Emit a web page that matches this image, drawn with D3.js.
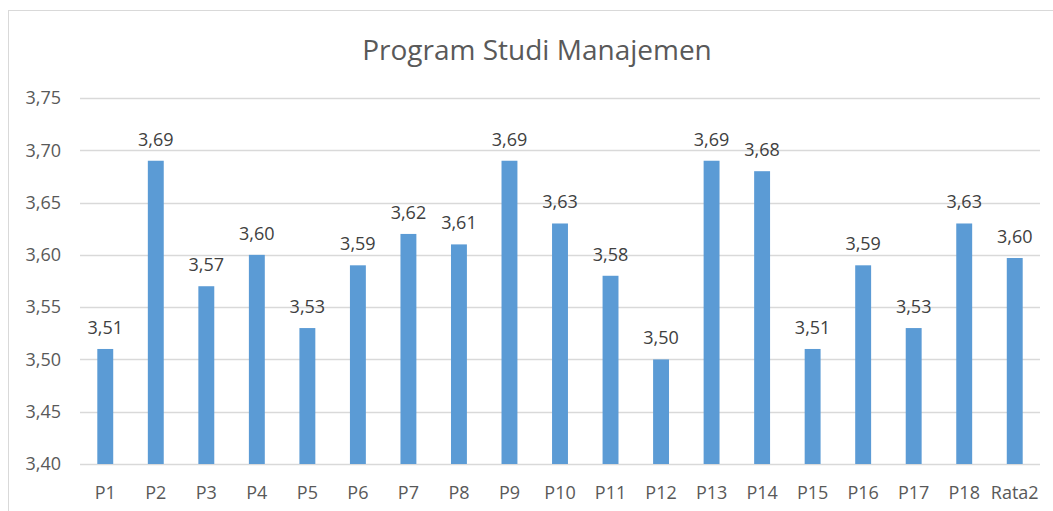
<!DOCTYPE html>
<html>
<head>
<meta charset="utf-8">
<script src="https://cdn.jsdelivr.net/npm/d3@7"></script>
<style>
  body { margin: 0; background: #fff; }
  text { font-family: "Open Sans", "Liberation Sans", sans-serif; }
</style>
</head>
<body>
<div id="chart"></div>
<script>
// data
var categories = ["P1", "P2", "P3", "P4", "P5", "P6", "P7", "P8", "P9", "P10",
  "P11", "P12", "P13", "P14", "P15", "P16", "P17", "P18", "Rata2"];
var values = [3.51, 3.69, 3.57, 3.60, 3.53, 3.59, 3.62, 3.61, 3.69, 3.63,
  3.58, 3.50, 3.69, 3.68, 3.51, 3.59, 3.53, 3.63, 3.597];
var yTicks = [3.40, 3.45, 3.50, 3.55, 3.60, 3.65, 3.70, 3.75];
var title = "Program Studi Manajemen";

var W = 1053, H = 511;
var margin = {top: 98, right: 13, bottom: 47, left: 80},
  width = W - margin.left - margin.right,
  height = H - margin.top - margin.bottom;

var comma = function(v, n) { return v.toFixed(n).replace(".", ","); };

var svg = d3.select("#chart").append("svg")
  .attr("width", W)
  .attr("height", H);

// chart border (cut off at right and bottom)
svg.append("rect")
  .attr("x", 8.5).attr("y", 10.5)
  .attr("width", W + 10).attr("height", H + 10)
  .attr("fill", "none")
  .attr("stroke", "#d9d9d9");

var g = svg.append("g")
  .attr("transform", "translate(" + margin.left + "," + margin.top + ")");

var x = d3.scaleBand().domain(categories).range([0, width]).paddingInner(0.685).paddingOuter(0.3425);
var y = d3.scaleLinear().domain([3.40, 3.75]).range([height, 0]);

// gridlines
g.selectAll(".grid").data(yTicks).enter().append("line")
  .attr("x1", 0).attr("x2", width)
  .attr("y1", function(d) { return Math.round(y(d)) + 0.5; })
  .attr("y2", function(d) { return Math.round(y(d)) + 0.5; })
  .attr("stroke", "#d9d9d9")
  .attr("stroke-width", 1.3);

// y axis labels
var yAxis = g.append("g")
  .call(d3.axisLeft(y).tickValues(yTicks).tickSize(0).tickPadding(19)
    .tickFormat(function(d) { return comma(d, 2); }));
yAxis.select(".domain").remove();
yAxis.selectAll("text")
  .style("font-size", "18px")
  .attr("fill", "#595959");

// x axis labels
var xAxis = g.append("g")
  .attr("transform", "translate(0," + height + ")")
  .call(d3.axisBottom(x).tickSize(0).tickPadding(22));
xAxis.select(".domain").remove();
xAxis.selectAll("text")
  .style("font-size", "18px")
  .attr("fill", "#595959");

// bars
g.selectAll(".bar").data(values).enter().append("rect")
  .attr("class", "bar")
  .attr("x", function(d, i) { return x(categories[i]); })
  .attr("width", x.bandwidth())
  .attr("y", function(d) { return y(d); })
  .attr("height", function(d) { return height - y(d); })
  .attr("fill", "#5b9bd5");

// data labels
g.selectAll(".label").data(values).enter().append("text")
  .attr("x", function(d, i) { return x(categories[i]) + x.bandwidth() / 2; })
  .attr("y", function(d) { return y(d) - 15; })
  .attr("text-anchor", "middle")
  .style("font-size", "18px")
  .attr("fill", "#404040")
  .text(function(d) { return comma(d, 2); });

// title
svg.append("text")
  .attr("x", 537)
  .attr("y", 60)
  .attr("text-anchor", "middle")
  .style("font-size", "28px")
  .attr("fill", "#595959")
  .text(title);
</script>
</body>
</html>
